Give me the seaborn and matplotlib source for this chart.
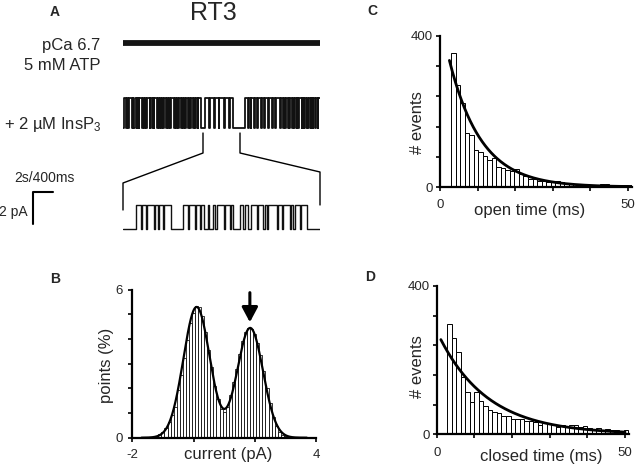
import numpy as np
import pandas as pd
import matplotlib
matplotlib.use("Agg")
import matplotlib.pyplot as plt
import seaborn as sns

# ---------------- data ----------------
# Panel C: open-time histogram (# events per 1.2 ms bin)
open_bin_start = 3.0
open_bin_width = 1.2
open_counts = [355, 270, 222, 142, 138, 97, 92, 83, 72, 76, 52, 50, 46, 42, 48, 35, 28, 22, 20, 17,
               16, 13, 15, 16, 14, 11, 10, 8, 9, 8, 6, 5, 6, 7, 7, 6, 5, 6, 5, 6]
open_fit_amp, open_fit_tau, open_fit_start = 450.0, 8.5, 2.5

# Panel D: closed-time histogram
closed_bin_start = 2.8
closed_bin_width = 1.2
closed_counts = [297, 259, 222, 155, 115, 86, 113, 90, 76, 65, 60, 58, 49, 49, 42, 40, 42, 36, 35, 33,
                 24, 31, 27, 27, 20, 26, 20, 24, 26, 20, 22, 18, 13, 17, 11, 15, 11, 11, 8, 11]
closed_fit_amp, closed_fit_tau, closed_fit_start = 278.0, 13.0, 1.1

# Panel B: all-points current histogram (% points per 0.1 pA bin)
current_first_center = -1.3
current_bin_width = 0.1
current_pct = [0.03, 0.08, 0.15, 0.25, 0.40, 0.62, 0.92, 1.25, 1.95, 2.55, 3.25, 3.95, 4.65, 5.05,
               5.34, 5.30, 4.95, 4.30, 3.55, 2.85, 2.10, 1.55, 1.15, 1.05, 1.25, 1.72, 2.25, 2.80,
               3.40, 3.92, 4.30, 4.45, 4.40, 4.20, 3.85, 3.35, 2.70, 2.00, 1.40, 0.85, 0.48, 0.25,
               0.12, 0.06, 0.03]
gauss_amp = [5.3, 4.45]
gauss_mu = [0.10, 1.85]
gauss_sigma = [0.43, 0.42]
arrow_current = 1.84

# Panel A: single-channel traces, dwell times (ms), alternating closed/open, starting closed
open_level_pA = 1.85
control_duration_ms = [20000]
insp3_dwells_ms = [150, 200, 70, 120, 100, 260, 60, 90, 140, 180, 80, 110, 60, 300, 90, 140, 70, 100,
                   120, 220, 60, 160, 100, 80, 70, 250, 90, 130, 60, 180, 110, 90, 70, 200, 80, 150,
                   60, 120, 130, 260, 70, 100, 90, 170, 60, 220, 80, 140, 60, 110, 120, 190, 70, 130,
                   90, 240, 60, 120, 100, 160, 70, 240,
                   450, 400, 60, 450, 80, 350, 60, 500, 70, 400, 60, 350, 1200,
                   300, 60, 200, 80, 210,
                   120, 250, 90, 300, 60, 200, 150, 280, 70, 350, 100, 220, 80, 400, 60, 270,
                   80, 120, 60, 150, 100, 90, 70, 200, 60, 110, 120, 160, 70, 100, 90, 240, 60, 130,
                   80, 170, 60, 110, 100, 190, 70, 150, 60, 120, 90, 200, 80, 170]
expanded_dwells_ms = [267, 100, 20, 80, 20, 134, 27, 53, 27, 73, 27, 140, 234, 100, 27, 107, 33, 67,
                      27, 53, 87, 20, 80, 47, 27, 140, 27, 94, 20, 47, 134, 67, 27, 73, 47, 120, 27,
                      107, 27, 40, 27, 174, 27, 73, 27, 140, 27, 40, 27, 107, 27, 107, 267]

# ---------------- setup ----------------
W, H = 640, 467
sns.set_style("ticks")
plt.rcParams['font.family'] = ['Liberation Sans', 'DejaVu Sans']
plt.rcParams['mathtext.fontset'] = 'custom'
plt.rcParams['mathtext.rm'] = 'Liberation Sans'
plt.rcParams['mathtext.it'] = 'Liberation Sans'
fig = plt.figure(figsize=(W / 100, H / 100), dpi=100)


def px_axes(l, t, r, b):
    return fig.add_axes([l / W, 1 - b / H, (r - l) / W, (b - t) / H])


def ftext(x, y, s, **kw):
    fig.text(x / W, 1 - y / H, s, **kw)


def style_axes(ax):
    sns.despine(ax=ax)
    for s in ('left', 'bottom'):
        ax.spines[s].set_linewidth(1.6)
        ax.spines[s].set_color('black')
    ax.tick_params(direction='out', length=3, width=1.2, labelsize=9.5, color='black', pad=2)


def step_xy(durations, level):
    edges = np.concatenate([[0.0], np.cumsum(durations)])
    states = (np.arange(len(durations)) % 2) * level
    return np.repeat(edges, 2)[1:-1], np.repeat(states, 2)


def weighted_hist(ax, centers, heights, edges, lw):
    df = pd.DataFrame({'x': centers, 'w': heights})
    sns.histplot(data=df, x='x', weights='w', bins=list(edges), ax=ax, color='white',
                 edgecolor='black', linewidth=lw, alpha=1)


def dwell_hist(ax, start, width, counts, amp, tau, t0, xlabel, lab_px, ylab_px, box):
    counts = np.asarray(counts, float)
    edges = start + width * np.arange(len(counts) + 1)
    centers = (edges[:-1] + edges[1:]) / 2
    weighted_hist(ax, centers, counts, edges, 0.7)
    t = np.linspace(t0, 50, 300)
    sns.lineplot(x=t, y=amp * np.exp(-t / tau), ax=ax, color='black', lw=2.0)
    ax.set_xlim(0, 51)
    ax.set_ylim(0, 400)
    ax.set_xticks([0, 10, 20, 30, 40, 50])
    ax.set_xticklabels(['0', '', '', '', '', '50'])
    ax.set_yticks([0, 80, 160, 240, 320, 400])
    ax.set_yticklabels(['0', '', '', '', '', '400'])
    style_axes(ax)
    ax.tick_params(axis='x', pad=6)
    l, t_, r, b = box
    ax.set_xlabel(xlabel, fontsize=12, va='center')
    ax.xaxis.set_label_coords((lab_px[0] - l) / (r - l), (b - lab_px[1]) / (b - t_))
    ax.set_ylabel('# events', fontsize=12, va='center')
    ax.yaxis.set_label_coords((ylab_px[0] - l) / (r - l), (b - ylab_px[1]) / (b - t_))


# ---------------- Panel C ----------------
boxC = (440, 36, 631.8, 187)
axC = px_axes(*boxC)
dwell_hist(axC, open_bin_start, open_bin_width, open_counts, open_fit_amp, open_fit_tau,
           open_fit_start, 'open time (ms)', (530, 211), (418, 123), boxC)

# ---------------- Panel D ----------------
boxD = (436.7, 286, 628.8, 434.3)
axD = px_axes(*boxD)
dwell_hist(axD, closed_bin_start, closed_bin_width, closed_counts, closed_fit_amp, closed_fit_tau,
           closed_fit_start, 'closed time (ms)', (541, 457), (417, 367), boxD)

# ---------------- Panel B ----------------
boxB = (132.3, 289.7, 316, 437.7)
axB = px_axes(*boxB)
pct = np.asarray(current_pct)
cedges = current_first_center - current_bin_width / 2 + current_bin_width * np.arange(len(pct) + 1)
ccenters = (cedges[:-1] + cedges[1:]) / 2
weighted_hist(axB, ccenters, pct, cedges, 0.55)
xc = np.linspace(-1.7, 3.7, 400)
yc = sum(a * np.exp(-(xc - m) ** 2 / (2 * s ** 2)) for a, m, s in zip(gauss_amp, gauss_mu, gauss_sigma))
sns.lineplot(x=xc, y=yc, ax=axB, color='black', lw=1.6)
axB.set_xlim(-2, 4)
axB.set_ylim(0, 6)
axB.set_xticks([-2, 0, 2, 4])
axB.set_xticklabels(['-2', '', '', '4'])
axB.set_yticks(range(7))
axB.set_yticklabels(['0', '', '', '', '', '', '6'])
style_axes(axB)
axB.tick_params(axis='x', pad=5)
axB.tick_params(axis='y', pad=4)
axB.annotate('', xy=(arrow_current, 4.68), xytext=(arrow_current, 5.88),
             arrowprops=dict(arrowstyle='-|>,head_width=0.4,head_length=0.75', lw=2.2,
                             color='black', mutation_scale=12, shrinkA=0, shrinkB=0))
lB, tB, rB, bB = boxB
axB.set_xlabel('current (pA)', fontsize=12, va='center')
axB.xaxis.set_label_coords((228 - lB) / (rB - lB), (bB - 455) / (bB - tB))
axB.set_ylabel('points (%)', fontsize=12, va='center')
axB.yaxis.set_label_coords((107 - lB) / (rB - lB), (bB - 365) / (bB - tB))

# ---------------- Panel A traces ----------------
axT = px_axes(123, 27, 320, 59)
x, y = step_xy(control_duration_ms, open_level_pA)
sns.lineplot(x=x, y=y, ax=axT, color='#151515', lw=4.2, sort=False, estimator=None)
axT.set_xlim(0, sum(control_duration_ms))
axT.set_ylim(-1, 1)
axT.axis('off')

axM = px_axes(123, 64, 320, 144)
x, y = step_xy(insp3_dwells_ms, open_level_pA)
sns.lineplot(x=x, y=y, ax=axM, color='#111111', lw=1.3, sort=False, estimator=None)
axM.set_xlim(0, sum(insp3_dwells_ms))
axM.set_ylim(-1, 4)
axM.axis('off')

axE = px_axes(123, 190, 320, 242)
x, y = step_xy(expanded_dwells_ms, open_level_pA)
sns.lineplot(x=x, y=y, ax=axE, color='#111111', lw=1.0, sort=False, estimator=None)
axE.set_xlim(0, sum(expanded_dwells_ms))
axE.set_ylim(-1, 3)
axE.axis('off')

# overlay for connector lines and scale bar
ax0 = fig.add_axes([0, 0, 1, 1])
ax0.set_xlim(0, W)
ax0.set_ylim(H, 0)
ax0.axis('off')
ax0.patch.set_visible(False)
ax0.plot([203, 203, 123, 123], [133, 153, 183, 210], color='black', lw=1.0)
ax0.plot([240, 240, 320, 320], [133, 153, 172, 205], color='black', lw=1.0)
ax0.plot([53, 33, 33], [192, 192, 224], color='black', lw=1.5)

# texts
ftext(55, 12, 'A', fontsize=10, fontweight='bold', ha='center', va='center')
ftext(55, 279, 'B', fontsize=10, fontweight='bold', ha='center', va='center')
ftext(372, 11, 'C', fontsize=10, fontweight='bold', ha='center', va='center')
ftext(370, 277, 'D', fontsize=10, fontweight='bold', ha='center', va='center')
ftext(213, 13, 'RT3', fontsize=18, ha='center', va='center')
ftext(100, 45, 'pCa 6.7', fontsize=12, ha='right', va='center')
ftext(100, 65, '5 mM ATP', fontsize=12, ha='right', va='center')
ftext(102, 124, '+ 2 \u00b5M InsP$_3$', fontsize=12, ha='right', va='center')
ftext(44, 178, '2s/400ms', fontsize=10, ha='center', va='center')
ftext(28, 212, '2 pA', fontsize=10, ha='right', va='center')

fig.savefig('out.png', dpi=100)
